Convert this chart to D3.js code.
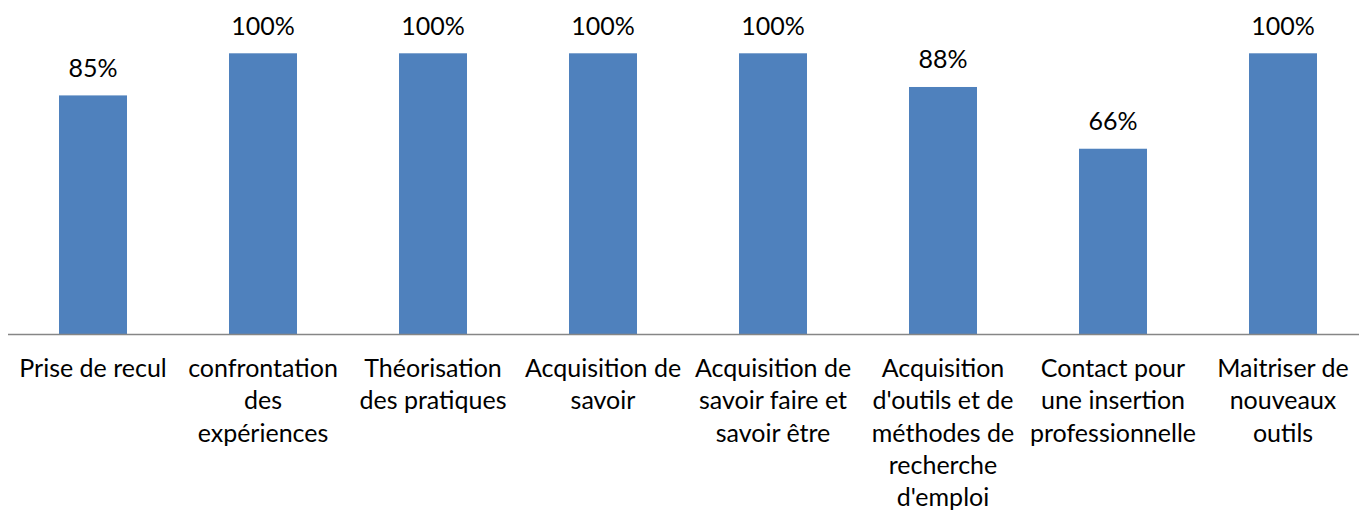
<!DOCTYPE html>
<html>
<head>
<meta charset="utf-8">
<script src="https://cdn.jsdelivr.net/npm/d3@7"></script>
<style>
  body { margin: 0; background: #fff; }
  text { font-family: Lato, "Open Sans", sans-serif; fill: #000; }
</style>
</head>
<body>
<div id="chart"></div>
<script>
// categories, one array of lines per tick label
var categories = [
  ["Prise de recul"],
  ["confrontation", "des", "expériences"],
  ["Théorisation", "des pratiques"],
  ["Acquisition de", "savoir"],
  ["Acquisition de", "savoir faire et", "savoir être"],
  ["Acquisition", "d'outils et de", "méthodes de", "recherche", "d'emploi"],
  ["Contact pour", "une insertion", "professionnelle"],
  ["Maitriser de", "nouveaux", "outils"]
];
var values = [0.85, 1.00, 1.00, 1.00, 1.00, 0.88, 0.66, 1.00];
var keys = categories.map(function(c) { return c.join(" "); });

var width = 1359, height = 511;
var baseline = 334, top100 = 53.3;

var svg = d3.select("#chart")
  .append("svg")
  .attr("width", width)
  .attr("height", height);

var x = d3.scaleBand()
  .domain(keys)
  .range([8, 1368])
  .paddingInner(0.6)
  .paddingOuter(0.3);

var y = d3.scaleLinear().domain([0, 1]).range([baseline, top100]);

var fmt = d3.format(".0%");

// bars
svg.selectAll(".bar")
  .data(values)
  .enter().append("rect")
  .attr("class", "bar")
  .attr("x", function(d, i) { return x(keys[i]); })
  .attr("y", function(d) { return y(d); })
  .attr("width", x.bandwidth())
  .attr("height", function(d) { return y(0) - y(d); })
  .style("fill", "#4f81bd");

// value labels
svg.selectAll(".val")
  .data(values)
  .enter().append("text")
  .attr("class", "val")
  .attr("x", function(d, i) { return x(keys[i]) + x.bandwidth() / 2; })
  .attr("y", function(d) { return y(d) - 18.5; })
  .attr("text-anchor", "middle")
  .style("font-size", "25px")
  .text(function(d) { return fmt(d); });

// x axis line
svg.append("line")
  .attr("x1", 8).attr("x2", width)
  .attr("y1", baseline + 0.5).attr("y2", baseline + 0.5)
  .attr("stroke", "#868686")
  .attr("stroke-width", 1.5);

// category labels
var labels = svg.selectAll(".cat")
  .data(categories)
  .enter().append("text")
  .attr("class", "cat")
  .attr("text-anchor", "middle")
  .style("font-size", "25px");

labels.selectAll("tspan")
  .data(function(d, i) { return d.map(function(line) { return {line: line, i: i}; }); })
  .enter().append("tspan")
  .attr("x", function(d) { return x(keys[d.i]) + x.bandwidth() / 2; })
  .attr("y", function(d, j) { return 377 + j * 32.3; })
  .text(function(d) { return d.line; });
</script>
</body>
</html>
